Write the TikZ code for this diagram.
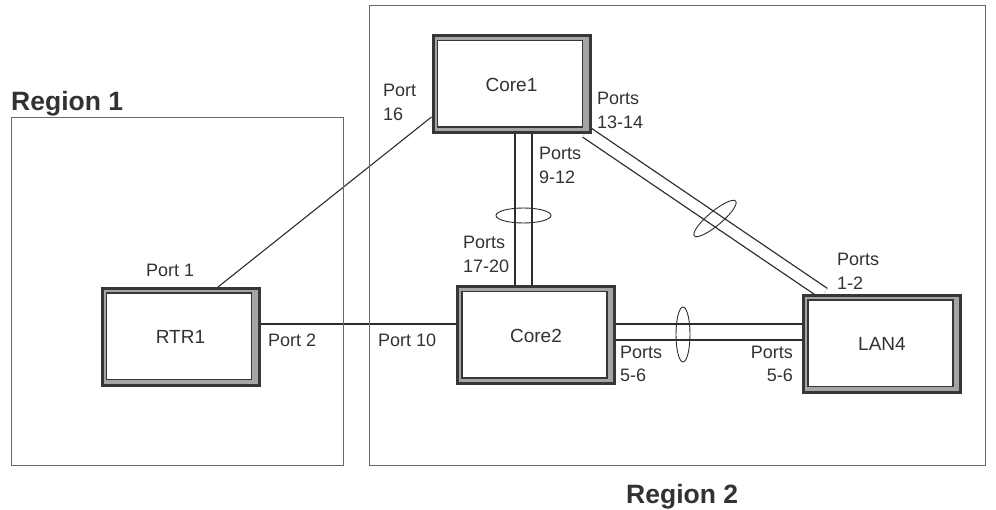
\documentclass[tikz,border=0pt]{standalone}
\usepackage{fontspec}
\setmainfont{Liberation Sans}
\usepackage{tikz}
\usetikzlibrary{shapes,arrows,positioning,calc,fit,backgrounds}

\definecolor{boxdark}{RGB}{55,55,55}
\definecolor{boxgray}{RGB}{165,165,165}
\definecolor{linkdark}{RGB}{45,45,45}
\definecolor{regionline}{RGB}{105,105,105}
\definecolor{labelgray}{RGB}{50,50,50}

\tikzset{
    unitbox/.style={draw=boxdark, line width=3pt, fill=boxgray, minimum width=157pt,
        minimum height=97pt, inner sep=0pt, text=labelgray, font=\fontsize{19}{24}\selectfont,
        path picture={\draw[draw=boxdark, line width=1.8pt, fill=white]
            ([shift={(4.5pt,-4.5pt)}]path picture bounding box.north west) rectangle
            ([shift={(-7.5pt,6pt)}]path picture bounding box.south east);}},
    trunk/.style={draw=linkdark, line width=1.3pt, double=white, double distance=#1},
    link/.style={draw=linkdark, line width=1.1pt},
    lag/.style={draw=linkdark, ellipse, line width=0.9pt, inner sep=0pt},
    portlabel/.style={anchor=base west, align=left, inner sep=0pt, text=labelgray,
        font=\fontsize{18}{24}\selectfont},
    regionlabel/.style={anchor=base west, inner sep=0pt, text=labelgray,
        font=\fontsize{26.5}{30}\selectfont\bfseries},
    regionbox/.style={draw=regionline, line width=1pt}
}

\begin{document}
\begin{tikzpicture}[x=1pt, y=-1pt]
    \useasboundingbox (0,0) rectangle (996,510);

    % regions
    \draw[regionbox] (11,118) rectangle (343,465);
    \draw[regionbox] (369,6) rectangle (985,465);
    \node[regionlabel] (reg1) at (11,111) {Region 1};
    \node[regionlabel] (reg2) at (626,503) {Region 2};

    % devices
    \node[unitbox] (core1) at (511.5,84.5) {Core1};
    \node[unitbox] (core2) at (536,335.5) {Core2};
    \node[unitbox] (rtr1) at (180.5,337) {RTR1};
    \node[unitbox] (lan4) at (882,344) {LAN4};

    % links
    \begin{scope}[on background layer]
        \draw[link] ([yshift=-32.5pt]core1.west) -- ([xshift=37.5pt]rtr1.north);
        \draw[link] ([yshift=13pt]rtr1.east) -- ([yshift=13pt]rtr1.east -| core2.west);
        \draw[trunk=15.8pt] ([xshift=12pt]core1.south) -- ([xshift=12pt]core1.south |- core2.north);
        \draw[trunk=10.8pt] ([shift={(74.5,47.5)}]core1.center) -- ([shift={(-58,-50.5)}]lan4.center);
        \draw[trunk=14.8pt] ([yshift=3.5pt]core2.east) -- ([yshift=3.5pt]core2.east -| lan4.west);
    \end{scope}

    % link aggregation rings
    \node[lag, minimum width=55pt, minimum height=15pt] (lagcore) at (523.5,215.5) {};
    \node[lag, minimum width=54pt, minimum height=14pt, rotate=40] (lagdiag) at (715,218.5) {};
    \node[lag, minimum width=14pt, minimum height=55pt] (laglan) at (683,334.5) {};

    % port labels (two-line labels sit on their second line)
    \node[portlabel] (p16) at (383,121) {Port\\16};
    \node[portlabel] (p1314) at (597,129) {Ports\\13-14};
    \node[portlabel] (p912) at (539,184) {Ports\\9-12};
    \node[portlabel] (p1720) at (463,273) {Ports\\17-20};
    \node[portlabel] (p12) at (837,290) {Ports\\1-2};
    \node[portlabel] (p1) at (146,277) {Port 1};
    \node[portlabel] (p2) at (268,347) {Port 2};
    \node[portlabel] (p10) at (378,347) {Port 10};
    \node[portlabel] (p56a) at (620,382) {Ports\\5-6};
    \node[portlabel, anchor=base east, align=right] (p56b) at (793,382) {Ports\\5-6};
\end{tikzpicture}
\end{document}
